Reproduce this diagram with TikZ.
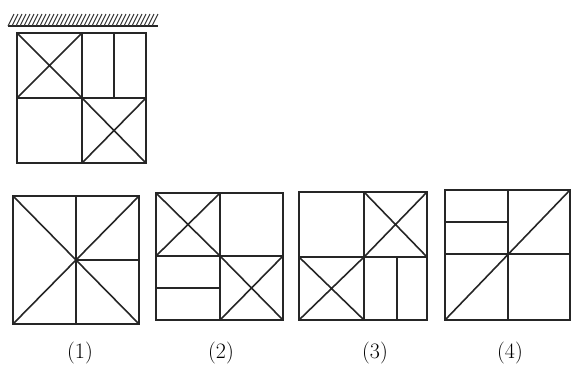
\documentclass[tikz,border=0pt]{standalone}
\usepackage{tikz}
\usetikzlibrary{positioning,calc}
\tikzset{
  fig/.style={draw=black!85, line width=1.6pt, line join=miter},
  thin/.style={draw=black!80, line width=1pt},
  lbl/.style={font=\fontsize{22}{26}\selectfont, inner sep=0pt}
}

\begin{document}
\begin{tikzpicture}[x=1pt,y=-1pt]
  \useasboundingbox (0,0) rectangle (572,368);
  % ceiling
  \draw[fig] (8,26) -- (158,26);
  \foreach \x in {8,12,...,152}
    \draw[thin] (\x,26) -- (\x+6,14);
  % question figure
  \draw[fig] (17,33) rectangle (146,163);
  \draw[fig] (17,98) -- (146,98);
  \draw[fig] (82,33) -- (82,163);
  \draw[fig] (114,33) -- (114,98);
  \draw[fig] (17,33) -- (82,98) (82,33) -- (17,98);
  \draw[fig] (82,98) -- (146,163) (146,98) -- (82,163);
  % answer (1)
  \draw[fig] (13,196) rectangle (139,324);
  \draw[fig] (76,196) -- (76,324);
  \draw[fig] (76,260) -- (139,260);
  \draw[fig] (13,196) -- (139,324) (139,196) -- (13,324);
  % answer (2)
  \draw[fig] (156,193) rectangle (283,320);
  \draw[fig] (156,256) -- (283,256);
  \draw[fig] (220,193) -- (220,320);
  \draw[fig] (156,288) -- (220,288);
  \draw[fig] (156,193) -- (220,256) (220,193) -- (156,256);
  \draw[fig] (220,256) -- (283,320) (283,256) -- (220,320);
  % answer (3)
  \draw[fig] (299,192) rectangle (427,320);
  \draw[fig] (299,257) -- (427,257);
  \draw[fig] (364,192) -- (364,320);
  \draw[fig] (397,257) -- (397,320);
  \draw[fig] (364,192) -- (427,257) (427,192) -- (364,257);
  \draw[fig] (299,257) -- (364,320) (364,257) -- (299,320);
  % answer (4)
  \draw[fig] (445,190) rectangle (570,320);
  \draw[fig] (445,254) -- (570,254);
  \draw[fig] (508,190) -- (508,320);
  \draw[fig] (445,222) -- (508,222);
  \draw[fig] (445,320) -- (570,190);
  % labels
  \node[lbl] (lblA) at (80,353) {(1)};
  \node[lbl] (lblB) at (221,353) {(2)};
  \node[lbl] (lblC) at (375,353) {(3)};
  \node[lbl] (lblD) at (510,353) {(4)};
\end{tikzpicture}
\end{document}
